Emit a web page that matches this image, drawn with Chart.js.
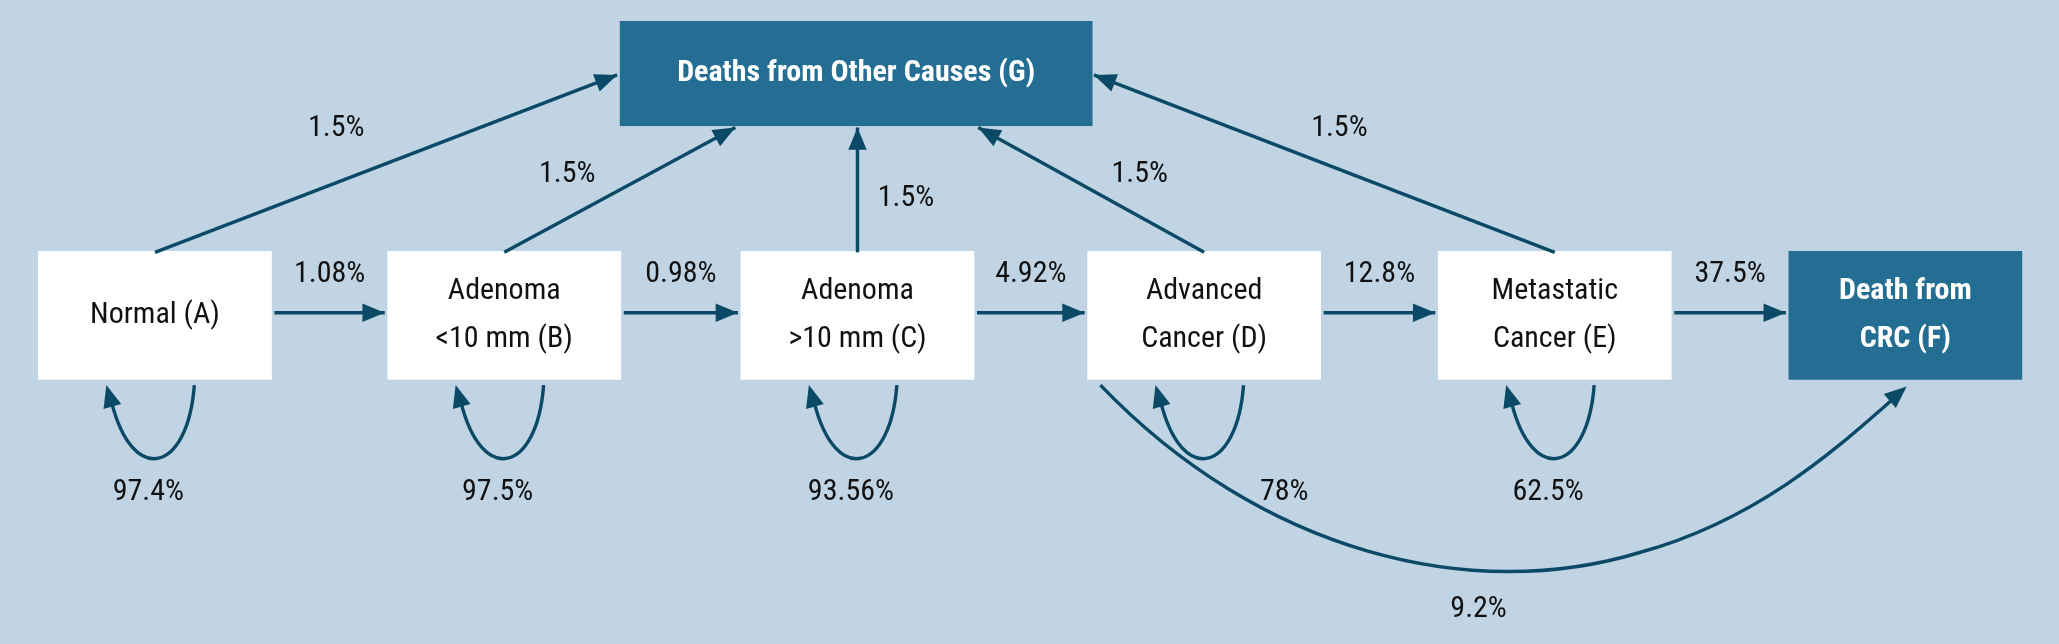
<!DOCTYPE html>
<html>
<head>
<meta charset="utf-8">
<script src="https://cdn.jsdelivr.net/npm/chart.js@4.4.0/dist/chart.umd.min.js"></script>
<style>
html, body { margin: 0; padding: 0; background: #c1d4e3; }
#wrap { width: 2059px; height: 644px; }
</style>
</head>
<body>
<div id="wrap"><canvas id="chartPicture"></canvas></div>
<script>
// states of the model
const stateIds = ["A", "B", "C", "D", "E", "F", "G"];
const stateLabels = [["Normal (A)"], ["Adenoma", "<10 mm (B)"], ["Adenoma", ">10 mm (C)"], ["Advanced", "Cancer (D)"], ["Metastatic", "Cancer (E)"], ["Death from", "CRC (F)"], ["Deaths from Other Causes (G)"]];
// forward transitions
const forwardFrom = ["A", "B", "C", "D", "E"];
const forwardTo = ["B", "C", "D", "E", "F"];
const forwardRates = ["1.08%", "0.98%", "4.92%", "12.8%", "37.5%"];
// to other causes
const otherFrom = ["A", "B", "C", "D", "E"];
const otherRates = ["1.5%", "1.5%", "1.5%", "1.5%", "1.5%"];
// staying in the same state
const stayStates = ["A", "B", "C", "D", "E"];
const stayRates = ["97.4%", "97.5%", "93.56%", "78%", "62.5%"];
// D straight to F
const skipRate = "9.2%";

// layout (diagram units, 1568 x 490)
const W = 1568, H = 490;
const boxCenterX = { A: 118, B: 384, C: 653, D: 917, E: 1184, F: 1451, G: 652 };
const boxCenterY = { A: 240, B: 240, C: 240, D: 240, E: 240, F: 240, G: 56 };
const boxHalfW = { A: 89, B: 89, C: 89, D: 89, E: 89, F: 89, G: 180 };
const boxHalfH = { A: 49, B: 49, C: 49, D: 49, E: 49, F: 49, G: 40 };
const darkBoxes = ["F", "G"];

const arrowColor = "#0b4a67";
const darkFill = "#236e92";
const fontFamily = "'Liberation Sans Narrow', 'Roboto Condensed', 'Liberation Sans', Arial, sans-serif";

const diagramPlugin =
{
    id: "diagram",
    afterDatasetsDraw(chart)
    {
        const ctx = chart.ctx;
        const xs = chart.scales.x;
        const ys = chart.scales.y;
        const px = (v) => xs.getPixelForValue(v);
        const py = (v) => ys.getPixelForValue(v);
        const k = (px(W) - px(0)) / W;

        function head(x1, y1, x2, y2)
        {
            const a = Math.atan2(y2 - y1, x2 - x1);
            const len = 17 * k, wid = 7 * k;
            ctx.beginPath();
            ctx.moveTo(x2, y2);
            ctx.lineTo(x2 - len * Math.cos(a) + wid * Math.sin(a), y2 - len * Math.sin(a) - wid * Math.cos(a));
            ctx.lineTo(x2 - len * Math.cos(a) - wid * Math.sin(a), y2 - len * Math.sin(a) + wid * Math.cos(a));
            ctx.closePath();
            ctx.fill();
        }
        function line(x1, y1, x2, y2)
        {
            ctx.beginPath();
            ctx.moveTo(px(x1), py(y1));
            ctx.lineTo(px(x2), py(y2));
            ctx.stroke();
            head(px(x1), py(y1), px(x2), py(y2));
        }
        function text(str, x, y, bold, color)
        {
            ctx.font = (bold ? "bold " : "") + Math.round(23 * k) + "px " + fontFamily;
            ctx.fillStyle = color || "#111";
            ctx.textAlign = "center";
            ctx.textBaseline = "middle";
            ctx.fillText(str, px(x), py(y));
        }

        ctx.save();
        ctx.strokeStyle = arrowColor;
        ctx.fillStyle = arrowColor;
        ctx.lineWidth = 2.6 * k;

        // boxes
        stateIds.forEach((id, i) =>
        {
            const dark = darkBoxes.includes(id);
            ctx.fillStyle = dark ? darkFill : "#ffffff";
            ctx.fillRect(px(boxCenterX[id] - boxHalfW[id]), py(boxCenterY[id] - boxHalfH[id]), 2 * boxHalfW[id] * k, 2 * boxHalfH[id] * k);
            const lines = stateLabels[i];
            lines.forEach((l, j) =>
            {
                text(l, boxCenterX[id], boxCenterY[id] + (j - (lines.length - 1) / 2) * 37, dark, dark ? "#ffffff" : "#111");
            });
        });
        ctx.fillStyle = arrowColor;

        // forward arrows
        forwardFrom.forEach((f, i) =>
        {
            const t = forwardTo[i];
            line(boxCenterX[f] + boxHalfW[f] + 2, 238, boxCenterX[t] - boxHalfW[t] - 2, 238);
            text(forwardRates[i], (boxCenterX[f] + boxHalfW[f] + boxCenterX[t] - boxHalfW[t]) / 2, 209);
            ctx.fillStyle = arrowColor;
        });

        // arrows to G
        const gTargets = [[470, 57], [560, 97], [653, 97], [745, 97], [833, 57]];
        const gLabels = [[256, 98], [432, 133], [690, 151], [868, 133], [1020, 98]];
        otherFrom.forEach((f, i) =>
        {
            line(boxCenterX[f], 192, gTargets[i][0], gTargets[i][1]);
            text(otherRates[i], gLabels[i][0], gLabels[i][1]);
            ctx.fillStyle = arrowColor;
        });

        // self loops
        stayStates.forEach((s, i) =>
        {
            const cx = boxCenterX[s];
            const sx = cx + 30, ex = cx - 37;
            ctx.beginPath();
            ctx.moveTo(px(sx), py(293));
            ctx.bezierCurveTo(px(sx - 5), py(360), px(ex + 20), py(370), px(ex + 4), py(306));
            ctx.stroke();
            head(px(ex + 7), py(318), px(ex), py(293));
            const lx = s === "D" ? cx + 61 : cx - 5;
            text(stayRates[i], lx, 375);
            ctx.fillStyle = arrowColor;
        });

        // D -> F
        ctx.beginPath();
        ctx.moveTo(px(838), py(293));
        ctx.bezierCurveTo(px(960), py(420), px(1120), py(460), px(1250), py(420));
        ctx.bezierCurveTo(px(1340), py(395), px(1400), py(340), px(1440), py(305));
        ctx.stroke();
        head(px(1430), py(313), px(1452), py(294));
        text(skipRate, 1126, 464);

        ctx.restore();
    }
};

const config =
{
    type: "scatter",
    data:
    {
        datasets:
        [
            {
                label: "states",
                data: stateIds.map(id => ({ x: boxCenterX[id], y: boxCenterY[id] })),
                pointRadius: 0,
                pointHoverRadius: 0,
            }
        ],
    },
    options:
    {
        maintainAspectRatio: false,
        animation: false,
        events: [],
        layout: { padding: 0 },
        plugins: { legend: { display: false }, tooltip: { enabled: false } },
        scales:
        {
            x: { type: "linear", min: 0, max: W, display: false },
            y: { type: "linear", min: 0, max: H, reverse: true, display: false },
        }
    },
    plugins: [diagramPlugin]
};
new Chart(document.getElementById("chartPicture"), config);
</script>
</body>
</html>
